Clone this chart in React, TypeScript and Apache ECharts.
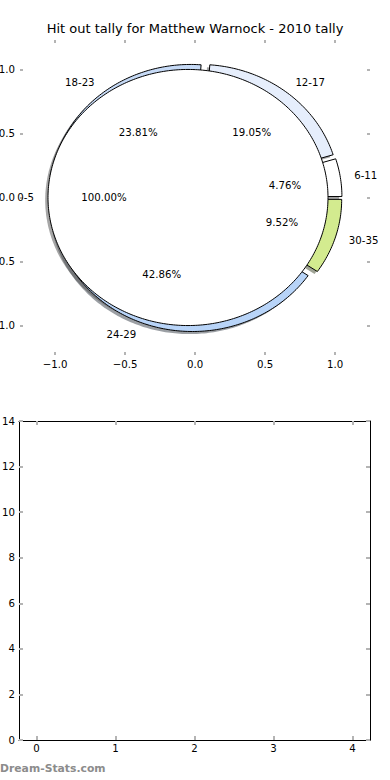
import React, { useEffect, useRef } from "react";
import * as echarts from "echarts";

const titleText = "Hit out tally for Matthew Warnock - 2010 tally";
const pieLabels = ["6-11", "12-17", "18-23", "24-29", "30-35"];
const pieValues = [1, 4, 5, 9, 2];
const pieColors = ["#ffffff", "#e6eefc", "#c6daf6", "#b8d4f8", "#d3eb8f"];
const fullLabels = ["0-5"];
const fullValues = [21];
const fullColors = ["#ffffff"];
const pieTicks = [-1, -0.5, 0, 0.5, 1];
const barXTicks = [0, 1, 2, 3, 4];
const barYTicks = [0, 2, 4, 6, 8, 10, 12, 14];

const EXPLODE = 0.05;
const LABEL_D = 1.1;
const PCT_D = 0.6;
const SHADOW_OFF = -0.02;
const FONT = '"DejaVu Sans", sans-serif';

type Wedge = { t1: number; t2: number; tm: number; cx: number; cy: number; frac: number };

function wedges(values: number[]): Wedge[] {
  const total = values.reduce((a, b) => a + b, 0);
  let acc = 0;
  return values.map((v) => {
    const t1 = (acc / total) * 2 * Math.PI;
    acc += v;
    const t2 = (acc / total) * 2 * Math.PI;
    const tm = (t1 + t2) / 2;
    return { t1, t2, tm, cx: EXPLODE * Math.cos(tm), cy: EXPLODE * Math.sin(tm), frac: v / total };
  });
}

function wedgePoints(w: Wedge, api: any, dx: number, dy: number) {
  const pts: number[][] = [];
  const full = w.t2 - w.t1 >= 2 * Math.PI - 1e-9;
  if (!full) pts.push(api.coord([w.cx + dx, w.cy + dy]));
  const n = Math.max(8, Math.ceil(((w.t2 - w.t1) * 180) / Math.PI));
  for (let k = 0; k <= n; k++) {
    const t = w.t1 + ((w.t2 - w.t1) * k) / n;
    pts.push(api.coord([w.cx + dx + Math.cos(t), w.cy + dy + Math.sin(t)]));
  }
  return pts;
}

function shadowColor(hex: string) {
  const r = parseInt(hex.slice(1, 3), 16);
  const g = parseInt(hex.slice(3, 5), 16);
  const b = parseInt(hex.slice(5, 7), 16);
  return `rgba(${Math.round(r * 0.3)},${Math.round(g * 0.3)},${Math.round(b * 0.3)},0.5)`;
}

const tickStyle = { color: "#b4b4b4", width: 2 };

export default function App() {
  const ref = useRef<HTMLDivElement>(null);
  useEffect(() => {
    if (!ref.current) return;
    const chart = echarts.init(ref.current, undefined, { renderer: "svg" });
    const pieW = wedges(pieValues);
    const fullW = wedges(fullValues);
    const allW = [...pieW, ...fullW];
    const allColors = [...pieColors, ...fullColors];
    const allLabels = [...pieLabels, ...fullLabels];

    const fmt = (v: number) => v.toFixed(1).replace("-", "\u2212");
    const labelBase = { color: "#000", fontSize: 10.2, fontFamily: FONT };
    const frameLine = { show: true, onZero: false, lineStyle: { color: "#000", width: 1 } };

    const pieAxisX = (pos: "bottom" | "top") => ({
      type: "value",
      gridIndex: 0,
      position: pos,
      min: -1.25,
      max: 1.25,
      axisLine: { show: false, onZero: false },
      splitLine: { show: false },
      axisTick: { show: true, inside: true, length: 3, lineStyle: tickStyle, customValues: pieTicks },
      axisLabel: { show: pos === "bottom", customValues: pieTicks, formatter: fmt, margin: 4, ...labelBase },
    });
    const pieAxisY = (pos: "left" | "right") => ({
      type: "value",
      gridIndex: 0,
      position: pos,
      min: -1.23,
      max: 1.23,
      axisLine: { show: false, onZero: false },
      splitLine: { show: false },
      axisTick: { show: true, inside: true, length: 3, lineStyle: tickStyle, customValues: pieTicks },
      axisLabel: { show: pos === "left", customValues: pieTicks, formatter: fmt, margin: 5, ...labelBase },
    });
    const barAxisX = (pos: "bottom" | "top") => ({
      type: "value",
      gridIndex: 1,
      position: pos,
      min: -0.22,
      max: 4.22,
      axisLine: frameLine,
      splitLine: { show: false },
      axisTick: { show: true, inside: true, length: 4, lineStyle: tickStyle, customValues: barXTicks },
      axisLabel: { show: pos === "bottom", customValues: barXTicks, margin: 3, ...labelBase },
    });
    const barAxisY = (pos: "left" | "right") => ({
      type: "value",
      gridIndex: 1,
      position: pos,
      min: 0,
      max: 14,
      axisLine: frameLine,
      splitLine: { show: false },
      axisTick: { show: true, inside: true, length: 4, lineStyle: tickStyle, customValues: barYTicks },
      axisLabel: { show: pos === "left", customValues: barYTicks, margin: 4, ...labelBase },
    });

    const common = {
      type: "custom",
      coordinateSystem: "cartesian2d",
      xAxisIndex: 0,
      yAxisIndex: 0,
      clip: false,
      silent: true,
    };

    chart.setOption({
      animation: false,
      backgroundColor: "#ffffff",
      title: {
        text: titleText,
        left: "center",
        top: 22,
        padding: 0,
        textStyle: { color: "#000", fontWeight: "normal", fontSize: 13, fontFamily: FONT },
      },
      grid: [
        { left: 20, right: 20, top: 40, bottom: 425, show: false, containLabel: false, outerBoundsMode: "none" },
        { left: 19, right: 20, top: 421, bottom: 40, show: false, containLabel: false, outerBoundsMode: "none" },
      ],
      xAxis: [pieAxisX("bottom"), pieAxisX("top"), barAxisX("bottom"), barAxisX("top")],
      yAxis: [pieAxisY("left"), pieAxisY("right"), barAxisY("left"), barAxisY("right")],
      graphic: [
        {
          type: "text",
          left: 0,
          top: 763,
          style: { text: "Dream-Stats.com", fill: "#8c8c8c", fontSize: 10.8, fontWeight: "bold", fontFamily: FONT },
        },
      ],
      series: [
        {
          ...common,
          z: 1,
          data: allW.map(() => [0, 0]),
          renderItem: (params: any, api: any) => {
            const i = params.dataIndex;
            return {
              type: "polygon",
              shape: { points: wedgePoints(allW[i], api, SHADOW_OFF, SHADOW_OFF) },
              style: { fill: shadowColor(allColors[i]), stroke: "none" },
            };
          },
        },
        {
          ...common,
          z: 2,
          data: pieW.map(() => [0, 0]),
          renderItem: (params: any, api: any) => {
            const i = params.dataIndex;
            return {
              type: "polygon",
              shape: { points: wedgePoints(pieW[i], api, 0, 0) },
              style: { fill: pieColors[i], stroke: "#000", lineWidth: 1 },
            };
          },
        },
        {
          ...common,
          z: 3,
          data: fullW.map(() => [0, 0]),
          renderItem: (params: any, api: any) => {
            const i = params.dataIndex;
            return {
              type: "polygon",
              shape: { points: wedgePoints(fullW[i], api, 0, 0) },
              style: { fill: fullColors[i], stroke: "#000", lineWidth: 1 },
            };
          },
        },
        {
          ...common,
          z: 4,
          data: allW.map(() => [0, 0]),
          renderItem: (params: any, api: any) => {
            const i = params.dataIndex;
            const w = allW[i];
            const lx = w.cx + LABEL_D * Math.cos(w.tm);
            const ly = w.cy + LABEL_D * Math.sin(w.tm);
            const px = w.cx + PCT_D * Math.cos(w.tm);
            const py = w.cy + PCT_D * Math.sin(w.tm);
            const lp = api.coord([lx, ly]);
            const pp = api.coord([px, py]);
            return {
              type: "group",
              children: [
                {
                  type: "text",
                  style: {
                    text: allLabels[i],
                    x: lp[0],
                    y: lp[1],
                    align: lx > 0 ? "left" : "right",
                    verticalAlign: "middle",
                    fill: "#000",
                    fontSize: 10.2,
                    fontFamily: FONT,
                  },
                },
                {
                  type: "text",
                  style: {
                    text: (w.frac * 100).toFixed(2) + "%",
                    x: pp[0],
                    y: pp[1],
                    align: "center",
                    verticalAlign: "middle",
                    fill: "#000",
                    fontSize: 10.2,
                    fontFamily: FONT,
                  },
                },
              ],
            };
          },
        },
      ],
    });
    return () => chart.dispose();
  }, []);
  return (
    <div
      ref={ref}
      style={{ position: "fixed", left: 0, top: 0, width: 390, height: 780, background: "#fff" }}
    />
  );
}
